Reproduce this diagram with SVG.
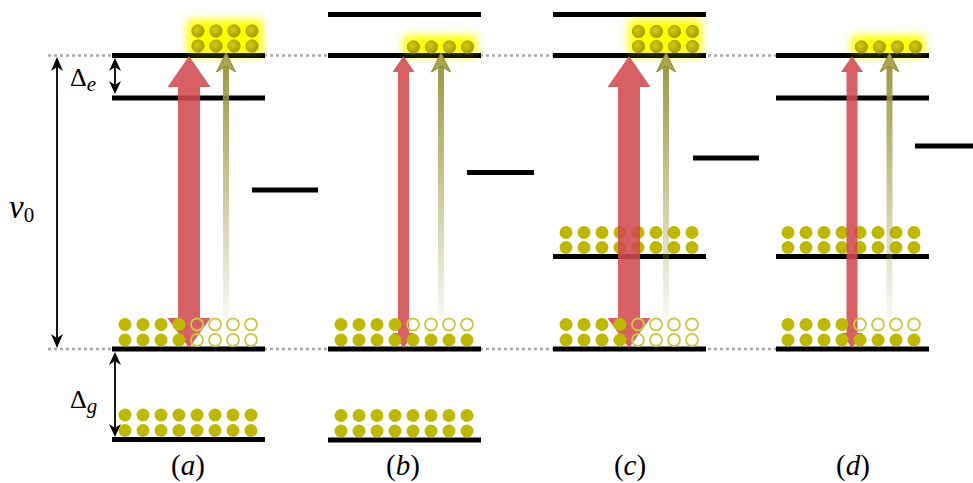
<svg xmlns="http://www.w3.org/2000/svg" width="973" height="483" viewBox="0 0 973 483">
<style>
.lvl{stroke:#000;stroke-width:5;fill:none}
.dot{fill:#BFB800}
.open{fill:none;stroke:#CFC646;stroke-width:1.8}
.edot{fill:url(#eg);stroke:#A69E00;stroke-width:0.8}
.glow{fill:#FFFF00;filter:url(#blur)}
.dotted{stroke:#A8A8A8;stroke-width:2.5;stroke-dasharray:3 3;fill:none}
.red{fill:#D24A4E;fill-opacity:0.88}
.olv{fill:url(#og)}
.olh{fill:#ABA550;stroke:#8C8730;stroke-width:1}
.blk{stroke:#000;stroke-width:1.8;fill:none}
.ah{fill:#000}
.t{font-family:"Liberation Serif","DejaVu Serif",serif;fill:#000}
</style>
<defs>
<radialGradient id="eg" cx="0.4" cy="0.4" r="0.6">
<stop offset="0" stop-color="#D4CC10"/>
<stop offset="1" stop-color="#A8A000"/>
</radialGradient>
<linearGradient id="og" gradientUnits="userSpaceOnUse" x1="0" y1="60" x2="0" y2="335">
<stop offset="0" stop-color="#9C9740" stop-opacity="1"/>
<stop offset="1" stop-color="#9C9740" stop-opacity="0"/>
</linearGradient>
<filter id="blur" x="-40%" y="-80%" width="180%" height="260%">
<feGaussianBlur stdDeviation="4.5"/>
</filter>
</defs>

<g id="guides">
<line class="dotted" x1="48" y1="55.5" x2="776" y2="55.5"/>
<line class="dotted" x1="48" y1="349" x2="776" y2="349"/>
</g>

<g id="glows">
<rect class="glow" x="188" y="20" width="74" height="36"/>
<rect class="glow" x="404" y="36" width="72" height="20"/>
<rect class="glow" x="629" y="20" width="72" height="36"/>
<rect class="glow" x="852" y="36" width="72" height="20"/>
</g>

<g id="panel-a-levels">
<line class="lvl" x1="112" y1="55.5" x2="265" y2="55.5"/>
<line class="lvl" x1="112" y1="98" x2="265" y2="98"/>
<line class="lvl" x1="252" y1="190" x2="318" y2="190"/>
<line class="lvl" x1="112" y1="349" x2="265" y2="349"/>
<line class="lvl" x1="112" y1="439.5" x2="265" y2="439.5"/>
</g>
<g id="panel-b-levels">
<line class="lvl" x1="328" y1="14.5" x2="481" y2="14.5"/>
<line class="lvl" x1="328" y1="55.5" x2="481" y2="55.5"/>
<line class="lvl" x1="467" y1="172.5" x2="534" y2="172.5"/>
<line class="lvl" x1="328" y1="349" x2="481" y2="349"/>
<line class="lvl" x1="328" y1="440" x2="481" y2="440"/>
</g>
<g id="panel-c-levels">
<line class="lvl" x1="553" y1="14.5" x2="706" y2="14.5"/>
<line class="lvl" x1="553" y1="55.5" x2="706" y2="55.5"/>
<line class="lvl" x1="693" y1="158" x2="759" y2="158"/>
<line class="lvl" x1="553" y1="256.5" x2="706" y2="256.5"/>
<line class="lvl" x1="553" y1="349" x2="706" y2="349"/>
</g>
<g id="panel-d-levels">
<line class="lvl" x1="776" y1="55.5" x2="929" y2="55.5"/>
<line class="lvl" x1="776" y1="98" x2="929" y2="98"/>
<line class="lvl" x1="915" y1="146" x2="973" y2="146"/>
<line class="lvl" x1="776" y1="256.5" x2="929" y2="256.5"/>
<line class="lvl" x1="776" y1="349" x2="929" y2="349"/>
</g>

<g id="glow-tint" opacity="0.22">
<rect class="glow" x="188" y="20" width="74" height="36"/>
<rect class="glow" x="404" y="36" width="72" height="20"/>
<rect class="glow" x="629" y="20" width="72" height="36"/>
<rect class="glow" x="852" y="36" width="72" height="20"/>
</g>

<g id="pop-c-mid">
<circle class="dot" cx="566" cy="232.5" r="6.5"/><circle class="dot" cx="584" cy="232.5" r="6.5"/><circle class="dot" cx="602" cy="232.5" r="6.5"/><circle class="dot" cx="620" cy="232.5" r="6.5"/><circle class="dot" cx="638" cy="232.5" r="6.5"/><circle class="dot" cx="656" cy="232.5" r="6.5"/><circle class="dot" cx="674" cy="232.5" r="6.5"/><circle class="dot" cx="692" cy="232.5" r="6.5"/>
<circle class="dot" cx="566" cy="247.5" r="6.5"/><circle class="dot" cx="584" cy="247.5" r="6.5"/><circle class="dot" cx="602" cy="247.5" r="6.5"/><circle class="dot" cx="620" cy="247.5" r="6.5"/><circle class="dot" cx="638" cy="247.5" r="6.5"/><circle class="dot" cx="656" cy="247.5" r="6.5"/><circle class="dot" cx="674" cy="247.5" r="6.5"/><circle class="dot" cx="692" cy="247.5" r="6.5"/>
</g>
<g id="pop-d-mid">
<circle class="dot" cx="788" cy="232.5" r="6.5"/><circle class="dot" cx="806" cy="232.5" r="6.5"/><circle class="dot" cx="824" cy="232.5" r="6.5"/><circle class="dot" cx="842" cy="232.5" r="6.5"/><circle class="dot" cx="860" cy="232.5" r="6.5"/><circle class="dot" cx="878" cy="232.5" r="6.5"/><circle class="dot" cx="896" cy="232.5" r="6.5"/><circle class="dot" cx="914" cy="232.5" r="6.5"/>
<circle class="dot" cx="788" cy="247.5" r="6.5"/><circle class="dot" cx="806" cy="247.5" r="6.5"/><circle class="dot" cx="824" cy="247.5" r="6.5"/><circle class="dot" cx="842" cy="247.5" r="6.5"/><circle class="dot" cx="860" cy="247.5" r="6.5"/><circle class="dot" cx="878" cy="247.5" r="6.5"/><circle class="dot" cx="896" cy="247.5" r="6.5"/><circle class="dot" cx="914" cy="247.5" r="6.5"/>
</g>

<g id="connectors">
<path class="red" d="M189,56 L210.5,87 L200,87 L200,318 L210.5,318 L189,348 L167.5,318 L178,318 L178,87 L167.5,87 Z"/>
<path class="red" d="M403.5,56 L414.5,72 L409,72 L409,333 L414.5,333 L403.5,348 L392.5,333 L398,333 L398,72 L392.5,72 Z"/>
<path class="red" d="M629,56 L650.5,87 L640,87 L640,318 L650.5,318 L629,348 L607.5,318 L618,318 L618,87 L607.5,87 Z"/>
<path class="red" d="M852,56 L863,72 L857.5,72 L857.5,333 L863,333 L852,348 L841,333 L846.5,333 L846.5,72 L841,72 Z"/>

<rect class="olv" x="223" y="66" width="6" height="280"/>
<path class="olh" d="M226,53 L235.5,72 L226,66 L216.5,72 Z"/>
<rect class="olv" x="438" y="66" width="6" height="280"/>
<path class="olh" d="M441,53 L450.5,72 L441,66 L431.5,72 Z"/>
<rect class="olv" x="663" y="66" width="6" height="280"/>
<path class="olh" d="M666,53 L675.5,72 L666,66 L656.5,72 Z"/>
<rect class="olv" x="886.5" y="66" width="6" height="280"/>
<path class="olh" d="M889.5,53 L899,72 L889.5,66 L880,72 Z"/>

<line class="blk" x1="57" y1="64" x2="57" y2="341"/>
<path class="ah" d="M57,57 L63,71 L57,67 L51,71 Z"/>
<path class="ah" d="M57,348 L63,334 L57,338 L51,334 Z"/>
<line class="blk" x1="115" y1="64" x2="115" y2="88"/>
<path class="ah" d="M115,58 L121,71 L115,67 L109,71 Z"/>
<path class="ah" d="M115,94 L121,81 L115,85 L109,81 Z"/>
<line class="blk" x1="115" y1="358" x2="115" y2="431"/>
<path class="ah" d="M115,352 L121,365 L115,361 L109,365 Z"/>
<path class="ah" d="M115,437 L121,424 L115,428 L109,424 Z"/>
</g>

<g id="pop-a-ground">
<circle class="dot" cx="125" cy="324.5" r="6.5"/><circle class="dot" cx="143" cy="324.5" r="6.5"/><circle class="dot" cx="161" cy="324.5" r="6.5"/><circle class="dot" cx="179" cy="324.5" r="6.5"/><circle class="open" cx="197" cy="324.5" r="6"/><circle class="open" cx="215" cy="324.5" r="6"/><circle class="open" cx="233" cy="324.5" r="6"/><circle class="open" cx="251" cy="324.5" r="6"/>
<circle class="dot" cx="125" cy="340" r="6.5"/><circle class="dot" cx="143" cy="340" r="6.5"/><circle class="dot" cx="161" cy="340" r="6.5"/><circle class="dot" cx="179" cy="340" r="6.5"/><circle class="open" cx="197" cy="340" r="6"/><circle class="open" cx="215" cy="340" r="6"/><circle class="open" cx="233" cy="340" r="6"/><circle class="open" cx="251" cy="340" r="6"/>
</g>
<g id="pop-a-low">
<circle class="dot" cx="125" cy="415" r="6.5"/><circle class="dot" cx="143" cy="415" r="6.5"/><circle class="dot" cx="161" cy="415" r="6.5"/><circle class="dot" cx="179" cy="415" r="6.5"/><circle class="dot" cx="197" cy="415" r="6.5"/><circle class="dot" cx="215" cy="415" r="6.5"/><circle class="dot" cx="233" cy="415" r="6.5"/><circle class="dot" cx="251" cy="415" r="6.5"/>
<circle class="dot" cx="125" cy="430.5" r="6.5"/><circle class="dot" cx="143" cy="430.5" r="6.5"/><circle class="dot" cx="161" cy="430.5" r="6.5"/><circle class="dot" cx="179" cy="430.5" r="6.5"/><circle class="dot" cx="197" cy="430.5" r="6.5"/><circle class="dot" cx="215" cy="430.5" r="6.5"/><circle class="dot" cx="233" cy="430.5" r="6.5"/><circle class="dot" cx="251" cy="430.5" r="6.5"/>
</g>
<g id="pop-b-ground">
<circle class="dot" cx="341" cy="324.5" r="6.5"/><circle class="dot" cx="359" cy="324.5" r="6.5"/><circle class="dot" cx="377" cy="324.5" r="6.5"/><circle class="dot" cx="395" cy="324.5" r="6.5"/><circle class="open" cx="413" cy="324.5" r="6"/><circle class="open" cx="431" cy="324.5" r="6"/><circle class="open" cx="449" cy="324.5" r="6"/><circle class="open" cx="467" cy="324.5" r="6"/>
<circle class="dot" cx="341" cy="340" r="6.5"/><circle class="dot" cx="359" cy="340" r="6.5"/><circle class="dot" cx="377" cy="340" r="6.5"/><circle class="dot" cx="395" cy="340" r="6.5"/><circle class="dot" cx="413" cy="340" r="6.5"/><circle class="dot" cx="431" cy="340" r="6.5"/><circle class="dot" cx="449" cy="340" r="6.5"/><circle class="dot" cx="467" cy="340" r="6.5"/>
</g>
<g id="pop-b-low">
<circle class="dot" cx="341" cy="415.5" r="6.5"/><circle class="dot" cx="359" cy="415.5" r="6.5"/><circle class="dot" cx="377" cy="415.5" r="6.5"/><circle class="dot" cx="395" cy="415.5" r="6.5"/><circle class="dot" cx="413" cy="415.5" r="6.5"/><circle class="dot" cx="431" cy="415.5" r="6.5"/><circle class="dot" cx="449" cy="415.5" r="6.5"/><circle class="dot" cx="467" cy="415.5" r="6.5"/>
<circle class="dot" cx="341" cy="431" r="6.5"/><circle class="dot" cx="359" cy="431" r="6.5"/><circle class="dot" cx="377" cy="431" r="6.5"/><circle class="dot" cx="395" cy="431" r="6.5"/><circle class="dot" cx="413" cy="431" r="6.5"/><circle class="dot" cx="431" cy="431" r="6.5"/><circle class="dot" cx="449" cy="431" r="6.5"/><circle class="dot" cx="467" cy="431" r="6.5"/>
</g>
<g id="pop-c-ground">
<circle class="dot" cx="566" cy="324.5" r="6.5"/><circle class="dot" cx="584" cy="324.5" r="6.5"/><circle class="dot" cx="602" cy="324.5" r="6.5"/><circle class="dot" cx="620" cy="324.5" r="6.5"/><circle class="open" cx="638" cy="324.5" r="6"/><circle class="open" cx="656" cy="324.5" r="6"/><circle class="open" cx="674" cy="324.5" r="6"/><circle class="open" cx="692" cy="324.5" r="6"/>
<circle class="dot" cx="566" cy="340" r="6.5"/><circle class="dot" cx="584" cy="340" r="6.5"/><circle class="dot" cx="602" cy="340" r="6.5"/><circle class="dot" cx="620" cy="340" r="6.5"/><circle class="open" cx="638" cy="340" r="6"/><circle class="open" cx="656" cy="340" r="6"/><circle class="open" cx="674" cy="340" r="6"/><circle class="open" cx="692" cy="340" r="6"/>
</g>
<g id="pop-d-ground">
<circle class="dot" cx="788" cy="324.5" r="6.5"/><circle class="dot" cx="806" cy="324.5" r="6.5"/><circle class="dot" cx="824" cy="324.5" r="6.5"/><circle class="dot" cx="842" cy="324.5" r="6.5"/><circle class="open" cx="860" cy="324.5" r="6"/><circle class="open" cx="878" cy="324.5" r="6"/><circle class="open" cx="896" cy="324.5" r="6"/><circle class="open" cx="914" cy="324.5" r="6"/>
<circle class="dot" cx="788" cy="340" r="6.5"/><circle class="dot" cx="806" cy="340" r="6.5"/><circle class="dot" cx="824" cy="340" r="6.5"/><circle class="dot" cx="842" cy="340" r="6.5"/><circle class="dot" cx="860" cy="340" r="6.5"/><circle class="dot" cx="878" cy="340" r="6.5"/><circle class="dot" cx="896" cy="340" r="6.5"/><circle class="dot" cx="914" cy="340" r="6.5"/>
</g>

<g id="pop-a-excited">
<circle class="edot" cx="198" cy="31" r="6.2"/><circle class="edot" cx="216" cy="31" r="6.2"/><circle class="edot" cx="234" cy="31" r="6.2"/><circle class="edot" cx="252" cy="31" r="6.2"/>
<circle class="edot" cx="198" cy="46" r="6.2"/><circle class="edot" cx="216" cy="46" r="6.2"/><circle class="edot" cx="234" cy="46" r="6.2"/><circle class="edot" cx="252" cy="46" r="6.2"/>
</g>
<g id="pop-b-excited">
<circle class="edot" cx="413.5" cy="47" r="6.2"/><circle class="edot" cx="431.5" cy="47" r="6.2"/><circle class="edot" cx="449.5" cy="47" r="6.2"/><circle class="edot" cx="467.5" cy="47" r="6.2"/>
</g>
<g id="pop-c-excited">
<circle class="edot" cx="638.5" cy="31.5" r="6.2"/><circle class="edot" cx="656.5" cy="31.5" r="6.2"/><circle class="edot" cx="674.5" cy="31.5" r="6.2"/><circle class="edot" cx="692.5" cy="31.5" r="6.2"/>
<circle class="edot" cx="638.5" cy="46.5" r="6.2"/><circle class="edot" cx="656.5" cy="46.5" r="6.2"/><circle class="edot" cx="674.5" cy="46.5" r="6.2"/><circle class="edot" cx="692.5" cy="46.5" r="6.2"/>
</g>
<g id="pop-d-excited">
<circle class="edot" cx="861.5" cy="47" r="6.2"/><circle class="edot" cx="879.5" cy="47" r="6.2"/><circle class="edot" cx="897.5" cy="47" r="6.2"/><circle class="edot" cx="915.5" cy="47" r="6.2"/>
</g>

<g id="labels">
<text class="t" x="9" y="218" font-size="33" font-style="italic">ν<tspan font-size="21" font-style="normal" dy="4">0</tspan></text>
<text class="t" x="70" y="86" font-size="26">Δ<tspan font-size="21" font-style="italic" dy="5">e</tspan></text>
<text class="t" x="70" y="408" font-size="26">Δ<tspan font-size="21" font-style="italic" dy="5">g</tspan></text>
<text class="t" x="188" y="475" font-size="29" text-anchor="middle">(<tspan font-style="italic">a</tspan>)</text>
<text class="t" x="403" y="475" font-size="29" text-anchor="middle">(<tspan font-style="italic">b</tspan>)</text>
<text class="t" x="630" y="475" font-size="29" text-anchor="middle">(<tspan font-style="italic">c</tspan>)</text>
<text class="t" x="853" y="475" font-size="29" text-anchor="middle">(<tspan font-style="italic">d</tspan>)</text>
</g>
</svg>
